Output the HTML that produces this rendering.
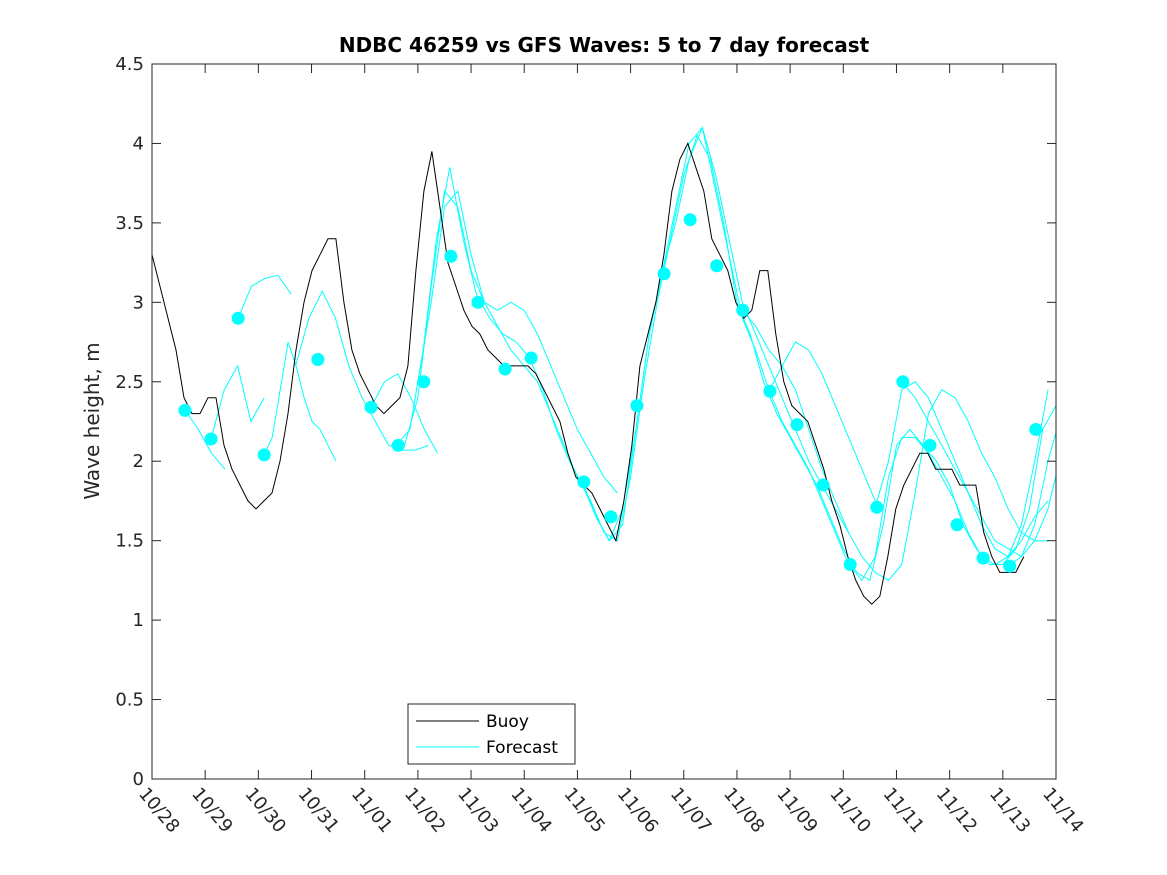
<!DOCTYPE html>
<html><head><meta charset="utf-8">
<style>
body{margin:0;background:#fff;}
svg{display:block;font-family:"DejaVu Sans","Liberation Sans",sans-serif;}
</style></head>
<body>
<svg id="chart" width="1167" height="875" xmlns="http://www.w3.org/2000/svg">
<defs><clipPath id="plotclip"><rect x="152" y="64" width="904" height="715"/></clipPath></defs>
<rect width="1167" height="875" fill="#fff"/>
<text x="604" y="52" text-anchor="middle" font-size="20" font-weight="bold" fill="#000">NDBC 46259 vs GFS Waves: 5 to 7 day forecast</text>
<text transform="translate(99,421) rotate(-90)" text-anchor="middle" font-size="20" fill="#262626">Wave height, m</text>
<g id="marks" clip-path="url(#plotclip)"></g>
<rect x="152" y="64" width="904" height="715" fill="none" stroke="#262626" stroke-width="1"/>
<g id="axes"></g>
<g>
<rect x="408" y="704" width="167" height="60" fill="#fff" stroke="#262626" stroke-width="1"/>
<line x1="416" y1="721" x2="479" y2="721" stroke="#000"/>
<text x="486" y="727" font-size="17" fill="#000">Buoy</text>
<line x1="416" y1="747" x2="479" y2="747" stroke="#00ffff"/>
<text x="486" y="753" font-size="17" fill="#000">Forecast</text>
</g>
</svg>
<script>
const xTickLabels=["10/28","10/29","10/30","10/31","11/01","11/02","11/03","11/04","11/05","11/06","11/07","11/08","11/09","11/10","11/11","11/12","11/13","11/14"];
const yTickValues=[0,0.5,1,1.5,2,2.5,3,3.5,4,4.5];
const yTickLabels=["0","0.5","1","1.5","2","2.5","3","3.5","4","4.5"];
const buoyStartDay=0;
const buoyStepDays=0.1504;
const buoyValues=[3.3,3.1,2.9,2.7,2.4,2.3,2.3,2.4,2.4,2.1,1.95,1.85,1.75,1.7,1.75,1.8,2.0,2.3,2.7,3.0,3.2,3.3,3.4,3.4,3.0,2.7,2.55,2.45,2.35,2.3,2.35,2.4,2.6,3.2,3.7,3.95,3.6,3.25,3.1,2.95,2.85,2.8,2.7,2.65,2.6,2.6,2.6,2.6,2.55,2.45,2.35,2.25,2.05,1.9,1.85,1.8,1.7,1.6,1.5,1.75,2.1,2.6,2.8,3.0,3.3,3.7,3.9,4.0,3.85,3.7,3.4,3.3,3.2,3.0,2.9,2.95,3.2,3.2,2.8,2.5,2.35,2.3,2.25,2.1,1.95,1.75,1.6,1.4,1.25,1.15,1.1,1.15,1.4,1.7,1.85,1.95,2.05,2.05,1.95,1.95,1.95,1.85,1.85,1.85,1.55,1.4,1.3,1.3,1.3,1.4];
const fcStart=[0.62,1.11,1.62,2.11,2.7,4.12,4.5,4.6,5.0,8.1,11.1,11.6,13.6,14.1,16.1];
const fcStep=[0.25,0.25,0.25,0.15,0.25,0.25,0.25,0.25,0.25,0.25,0.25,0.25,0.25,0.25,0.25];
const fcValues=[
[2.32,2.2,2.05,1.95],
[2.14,2.45,2.6,2.25,2.4],
[2.9,3.1,3.15,3.17,3.05],
[2.04,2.15,2.45,2.75,2.6,2.4,2.25,2.2,2.1,2.0],
[2.6,2.9,3.07,2.9,2.6,2.4,2.25,2.1,2.07,2.07,2.1],
[2.34,2.5,2.55,2.4,2.2,2.05],
[2.1,2.1,2.4,3.1,3.7,3.6,3.2,3.0,2.85,2.7,2.6,2.5,2.3,2.1,1.9,1.75,1.55,1.5,1.9,2.5,3.0,3.4,3.8,4.05,3.9,3.5,3.0,2.8,2.5,2.3,2.15,2.0,1.85,1.65,1.45,1.3,1.25,1.6,2.1,2.2,2.1,2.0,1.85,1.6,1.45,1.35,1.35,1.45,1.7,2.2,2.35],
[2.1,2.2,2.7,3.4,3.85,3.4,3.05,2.9,2.8,2.75,2.65,2.45,2.2,2.0,1.85,1.65,1.5,1.7,2.2,2.8,3.2,3.6,4.0,4.1,3.7,3.3,2.9,2.7,2.45,2.25,2.1,1.95,1.75,1.55,1.35,1.25,1.4,1.9,2.15,2.15,2.05,1.9,1.75,1.55,1.4,1.35,1.4,1.6,2.0,2.45],
[2.5,3.0,3.6,3.7,3.3,3.0,2.95,3.0,2.95,2.8,2.6,2.4,2.2,2.05,1.9,1.8],
[1.87,1.65,1.5,1.6,2.2,2.8,3.2,3.5,3.9,4.1,3.8,3.4,3.0,2.8,2.6,2.4,2.2,2.0,1.85,1.7,1.55],
[2.95,2.85,2.7,2.6,2.75,2.7,2.55,2.35,2.15,1.95,1.75],
[2.44,2.6,2.45,2.2,1.95,1.75,1.55,1.4,1.3,1.25,1.35,1.8,2.3,2.45,2.4,2.25,2.05,1.9,1.7,1.55,1.5,1.5],
[1.71,2.0,2.45,2.5,2.4,2.2,2.0,1.8,1.6,1.45,1.4,1.5,1.65,1.75],
[2.5,2.4,2.25,2.1,1.95,1.8,1.65,1.5,1.45,1.4,1.5,1.7,2.05,2.4,2.48],
[1.34,1.4,1.6,2.0,2.3]
];
const dotDays=[0.62,1.11,1.62,2.11,3.12,4.12,4.63,5.11,5.62,6.13,6.64,7.13,8.12,8.63,9.12,9.63,10.12,10.62,11.11,11.62,12.13,12.62,13.13,13.63,14.12,14.63,15.14,15.63,16.13,16.62];
const dotValues=[2.32,2.14,2.9,2.04,2.64,2.34,2.1,2.5,3.29,3.0,2.58,2.65,1.87,1.65,2.35,3.18,3.52,3.23,2.95,2.44,2.23,1.85,1.35,1.71,2.5,2.1,1.6,1.39,1.34,2.2];

const X0=152,X1=1056,Y0=779,Y1=64,DAYS=17,YMAX=4.5;
function xs(d){return X0+(X1-X0)*d/DAYS;}
function ys(v){return Y0-(Y0-Y1)*v/YMAX;}
const NS="http://www.w3.org/2000/svg";
const marks=document.getElementById('marks');
const axes=document.getElementById('axes');
function mk(t,a,p){const e=document.createElementNS(NS,t);for(const k in a)e.setAttribute(k,a[k]);p.appendChild(e);return e;}

fcValues.forEach((vals,i)=>{
  const pts=vals.map((v,j)=>xs(fcStart[i]+j*fcStep[i]).toFixed(1)+','+ys(v).toFixed(1)).join(' ');
  const e=mk('polyline',{points:pts,fill:'none',stroke:'#00ffff','stroke-width':1},marks);
  
  
});
{
  const pts=buoyValues.map((v,j)=>xs(buoyStartDay+j*buoyStepDays).toFixed(1)+','+ys(v).toFixed(1)).join(' ');
  const e=mk('polyline',{points:pts,fill:'none',stroke:'#000','stroke-width':1},marks);
  
  
}
dotDays.forEach((d,i)=>{
  const e=mk('circle',{cx:xs(d),cy:ys(dotValues[i]),r:6.5,fill:'#00ffff'},marks);
  
  
});
yTickValues.forEach((v,i)=>{
  const y=ys(v);
  mk('line',{x1:X0,y1:y,x2:X0+9,y2:y,stroke:'#262626'},axes);
  mk('line',{x1:X1,y1:y,x2:X1-9,y2:y,stroke:'#262626'},axes);
  const t=mk('text',{x:X0-8,y:y+6,'text-anchor':'end','font-size':18,fill:'#262626'},axes);
  t.textContent=yTickLabels[i];
  
  
});
xTickLabels.forEach((lab,i)=>{
  const x=xs(i);
  mk('line',{x1:x,y1:Y0,x2:x,y2:Y0-9,stroke:'#262626'},axes);
  mk('line',{x1:x,y1:Y1,x2:x,y2:Y1+9,stroke:'#262626'},axes);
  const t=mk('text',{x:0,y:0,transform:`translate(${x-14},${Y0+15}) rotate(50)`,'font-size':18,fill:'#262626'},axes);
  t.textContent=lab;
  
  
});
</script>
</body></html>
